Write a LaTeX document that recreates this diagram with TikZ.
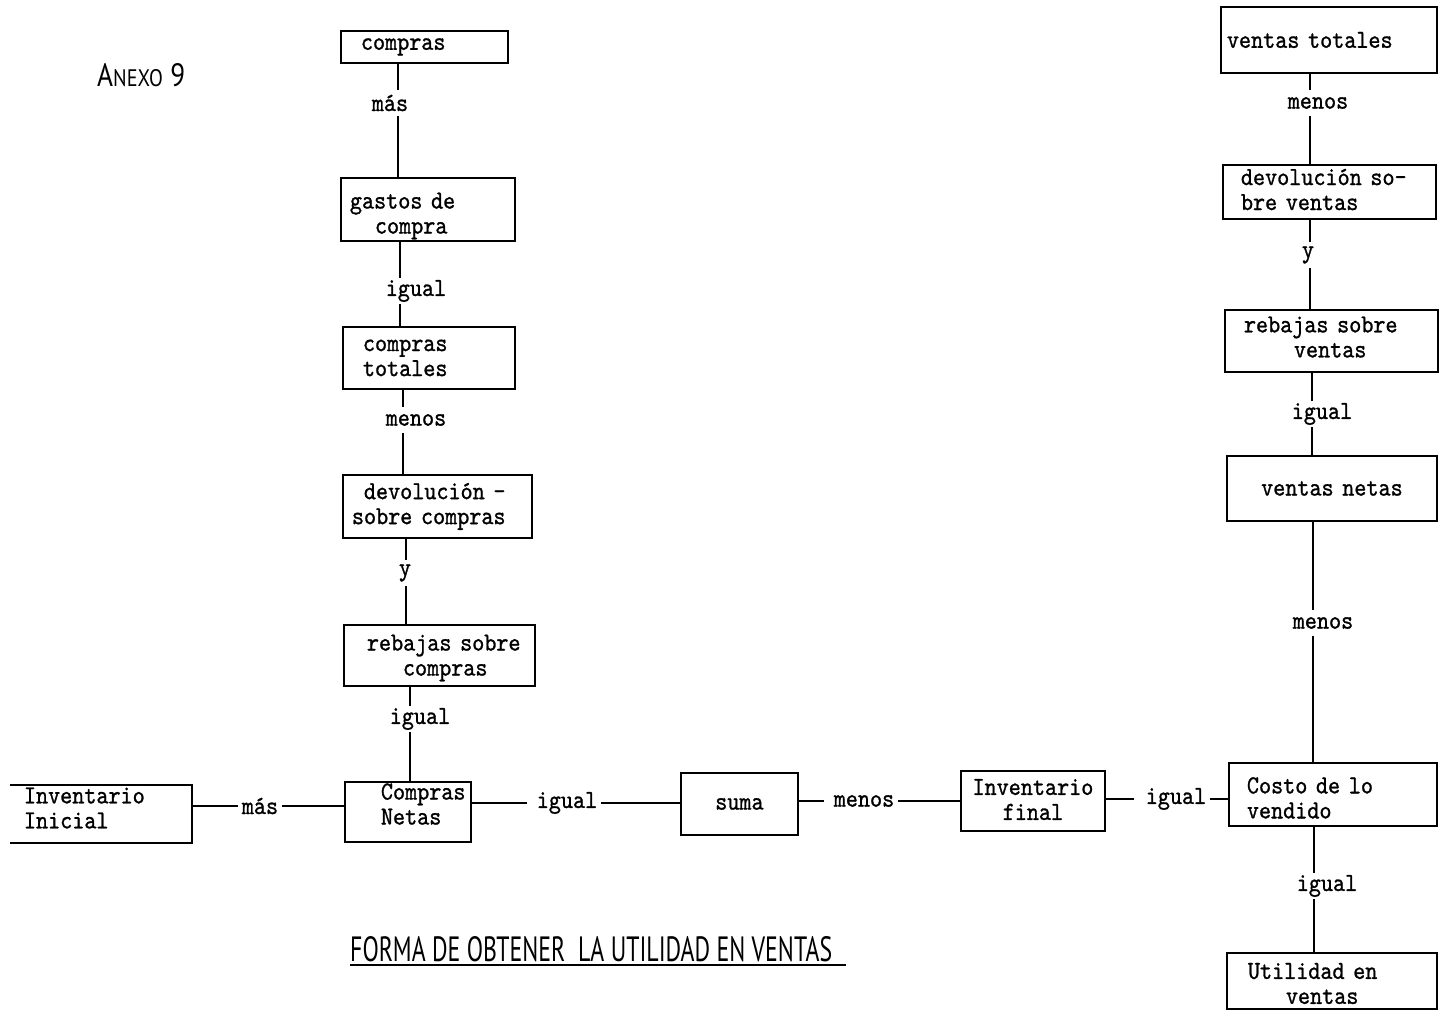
\documentclass[tikz,border=0pt]{standalone}
\usepackage{graphicx}
\usepackage{fontspec}
\newfontfamily\tw{lmmono10-regular.otf}[FakeStretch=0.885,FakeBold=1]
\newfontfamily\letr{PT Sans}
\newcommand{\upst}[1]{\rule{0pt}{#1}}
\newcommand{\dnst}[1]{\rule[-#1]{0pt}{#1}}
\tikzset{
  box/.style={draw, line width=1.9pt, anchor=north west, align=left, inner ysep=0pt,
    font={\tw\fontsize{26pt}{25pt}\selectfont}},
  conn/.style={line width=1.9pt},
  vlab/.style={inner sep=0pt, minimum height=26pt, font={\tw\fontsize{26pt}{25pt}\selectfont}},
  hlab/.style={inner xsep=4pt, inner ysep=0pt, font={\tw\fontsize{26pt}{25pt}\selectfont}},
}
\begin{document}
\begin{tikzpicture}[x=1pt,y=-1pt]
\useasboundingbox (0,0) rectangle (1441,1011);

% headings
\node[anchor=south west, inner sep=0pt] (anx) at (97,87) {\resizebox{88pt}{23pt}{\letr A\scalebox{0.74}{NEXO} 9}};
\node[anchor=south west, inner sep=0pt] (ttl) at (350,962) {\resizebox{482pt}{25pt}{\letr FORMA DE OBTENER\ \ LA UTILIDAD EN VENTAS}};
\draw[line width=1.3pt] ([yshift=-3pt]ttl.south west) -- ([yshift=-3pt,xshift=14pt]ttl.south east);

% left column
\node[box, minimum width=167pt, minimum height=32pt, text width=127pt, inner xsep=20pt] (cmp) at (340,30) {compras};
\node[box, minimum width=174pt, minimum height=63pt, text width=156pt, inner xsep=9pt] (gst) at (340,177) {\upst{29pt}gastos de\\\hspace*{25pt}compra};
\node[box, minimum width=172pt, minimum height=62pt, text width=132pt, inner xsep=20pt] (ctot) at (342,326) {compras\\totales};
\node[box, minimum width=189pt, minimum height=63pt, text width=171pt, inner xsep=9pt] (dev) at (342,474) {\hspace*{12pt}devolución -\\sobre compras};
\node[box, minimum width=191pt, minimum height=61pt, text width=175pt, inner xsep=8pt] (reb) at (343,624) {\upst{21pt}\hspace*{15pt}rebajas sobre\\\hspace*{51pt}compras};
\node[box, minimum width=126pt, minimum height=60pt, text width=116pt, inner xsep=5pt] (cn) at (344,781) {\hspace*{31pt}Compras\\\hspace*{31pt}Netas\dnst{16pt}};

% bottom row
\node[box, draw=none, minimum width=180pt, minimum height=56pt, text width=154pt, inner xsep=13pt] (ii) at (10,785) {Inventario\\Inicial\dnst{12pt}};
\draw[conn] (ii.north west) -- (ii.north east) -- (ii.south east) -- (ii.south west);
\node[box, minimum width=117pt, minimum height=62pt, align=center, text width=97pt, inner xsep=10pt] (suma) at (680,772) {suma};
\node[box, minimum width=144pt, minimum height=60pt, align=center, text width=130pt, inner xsep=7pt] (inf) at (960,770) {Inventario\\final\dnst{3pt}};
\node[box, minimum width=208pt, minimum height=63pt, text width=172pt, inner xsep=18pt] (cv) at (1228,762) {\upst{23pt}Costo de lo\\vendido};

% right column
\node[box, minimum width=216pt, minimum height=66pt, text width=204pt, inner xsep=6pt] (vt) at (1220,6) {ventas totales};
\node[box, minimum width=213pt, minimum height=54pt, text width=177pt, inner xsep=18pt] (dv) at (1222,164) {devolución so-\\bre ventas\dnst{5pt}};
\node[box, minimum width=213pt, minimum height=62pt, text width=175pt, inner xsep=19pt] (rv) at (1224,309) {rebajas sobre\\\hspace*{50pt}ventas\dnst{8pt}};
\node[box, minimum width=210pt, minimum height=65pt, align=center, text width=190pt, inner xsep=10pt] (vn) at (1226,455) {ventas netas};
\node[box, minimum width=210pt, minimum height=56pt, text width=168pt, inner xsep=21pt] (uv) at (1226,952) {\upst{21pt}Utilidad en\\\hspace*{38pt}ventas};

% labels
\node[vlab] (l1) at (390,103) {más};
\node[vlab] (l2) at (416,291) {igual};
\node[vlab] (l3) at (416,420) {menos};
\node[vlab] (l4) at (405,573) {y};
\node[vlab] (l5) at (420,719) {igual};
\node[vlab] (r1) at (1318,103) {menos};
\node[vlab] (r2) at (1308,255) {y};
\node[vlab] (r3) at (1322,414) {igual};
\node[vlab] (r4) at (1323,623) {menos};
\node[vlab] (r5) at (1327,886) {igual};
\node[hlab] (h1) at (260,806) {más};
\node[hlab] (h2) at (567,803) {igual};
\node[hlab] (h3) at (864,801) {menos};
\node[hlab] (h4) at (1176,799) {igual};

% line x positions
\coordinate (x1) at (398,0);
\coordinate (x2) at (400,0);
\coordinate (x3) at (403,0);
\coordinate (x4) at (406,0);
\coordinate (x5) at (410,0);
\coordinate (y1) at (1310,0);
\coordinate (y2) at (1310,0);
\coordinate (y3) at (1312,0);
\coordinate (y4) at (1313,0);
\coordinate (y5) at (1314,0);

% vertical connectors
\draw[conn] (x1 |- cmp.south) -- (x1 |- l1.north) (x1 |- l1.south) -- (x1 |- gst.north);
\draw[conn] (x2 |- gst.south) -- (x2 |- l2.north) (x2 |- l2.south) -- (x2 |- ctot.north);
\draw[conn] (x3 |- ctot.south) -- (x3 |- l3.north) (x3 |- l3.south) -- (x3 |- dev.north);
\draw[conn] (x4 |- dev.south) -- (x4 |- l4.north) (x4 |- l4.south) -- (x4 |- reb.north);
\draw[conn] (x5 |- reb.south) -- (x5 |- l5.north) (x5 |- l5.south) -- (x5 |- cn.north);
\draw[conn] (y1 |- vt.south) -- (y1 |- r1.north) (y1 |- r1.south) -- (y1 |- dv.north);
\draw[conn] (y2 |- dv.south) -- (y2 |- r2.north) (y2 |- r2.south) -- (y2 |- rv.north);
\draw[conn] (y3 |- rv.south) -- (y3 |- r3.north) (y3 |- r3.south) -- (y3 |- vn.north);
\draw[conn] (y4 |- vn.south) -- (y4 |- r4.north) (y4 |- r4.south) -- (y4 |- cv.north);
\draw[conn] (y5 |- cv.south) -- (y5 |- r5.north) (y5 |- r5.south) -- (y5 |- uv.north);

% horizontal connectors
\draw[conn] (ii.east |- h1.west) -- (h1.west) (h1.east) -- (cn.west |- h1.east);
\draw[conn] (cn.east |- h2.west) -- ([xshift=-6pt]h2.west) (h2.east) -- (suma.west |- h2.east);
\draw[conn] (suma.east |- h3.west) -- ([xshift=-6pt]h3.west) (h3.east) -- (inf.west |- h3.east);
\draw[conn] (inf.east |- h4.west) -- ([xshift=-8pt]h4.west) (h4.east) -- (cv.west |- h4.east);
\end{tikzpicture}
\end{document}
